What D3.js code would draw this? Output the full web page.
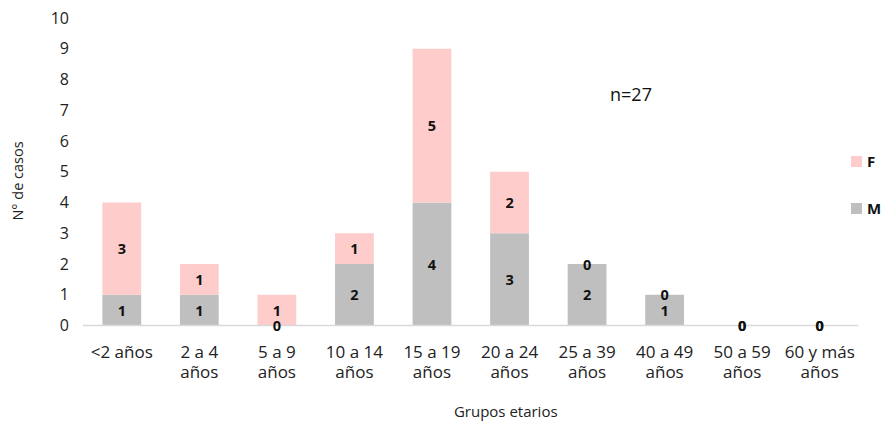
<!DOCTYPE html>
<html>
<head>
<meta charset="utf-8">
<script src="https://cdn.jsdelivr.net/npm/d3@7"></script>
<style>
  body { margin: 0; background: #fff; }
  text { font-family: "Open Sans", "DejaVu Sans", sans-serif; }
</style>
</head>
<body>
<div id="chart"></div>
<script>
// data
var grupos = [["<2 años"], ["2 a 4", "años"], ["5 a 9", "años"], ["10 a 14", "años"], ["15 a 19", "años"],
              ["20 a 24", "años"], ["25 a 39", "años"], ["40 a 49", "años"], ["50 a 59", "años"], ["60 y más", "años"]];
var masculino = [1, 1, 0, 2, 4, 3, 2, 1, 0, 0];
var femenino  = [3, 1, 1, 1, 5, 2, 0, 0, 0, 0];
var yTicks = [0, 1, 2, 3, 4, 5, 6, 7, 8, 9, 10];
var series = ["M", "F"];

var W = 888, H = 429;
var margin = {top: 18, right: 30, bottom: 103, left: 83},
    width = 858.5 - margin.left,
    height = 325.5 - margin.top;

var svg = d3.select("#chart").append("svg")
    .attr("width", W).attr("height", H)
  .append("g")
    .attr("transform", "translate(" + margin.left + "," + margin.top + ")");

var keys = grupos.map(function(d) { return d.join(" "); });
var rows = keys.map(function(k, i) { return {group: k, M: masculino[i], F: femenino[i]}; });

var x = d3.scaleBand().domain(keys).range([0, width]).paddingInner(0.5).paddingOuter(0.25);
var y = d3.scaleLinear().domain([0, 10]).range([height, 0]);
var color = d3.scaleOrdinal().domain(series).range(["#bfbfbf", "#ffcccc"]);

var stacked = d3.stack().keys(series)(rows);

// bars
svg.append("g").selectAll("g")
  .data(stacked).enter().append("g")
    .attr("fill", function(d) { return color(d.key); })
  .selectAll("rect")
  .data(function(d) { return d; })
  .enter().append("rect")
    .attr("x", function(d) { return x(d.data.group); })
    .attr("y", function(d) { return y(d[1]); })
    .attr("height", function(d) { return y(d[0]) - y(d[1]); })
    .attr("width", x.bandwidth());

// x axis line
svg.append("line")
    .attr("x1", 0).attr("x2", width)
    .attr("y1", height).attr("y2", height)
    .attr("stroke", "#d9d9d9").attr("stroke-width", 1.5);

// y tick labels
svg.append("g").selectAll("text")
  .data(yTicks).enter().append("text")
    .attr("x", -14)
    .attr("y", function(d) { return y(d); })
    .attr("dy", "0.35em")
    .attr("text-anchor", "end")
    .attr("font-size", 16)
    .attr("fill", "#222")
    .text(function(d) { return d; });

// x tick labels (one text per line)
grupos.forEach(function(lines, i) {
  svg.append("g").selectAll("text")
    .data(lines).enter().append("text")
      .attr("x", x(keys[i]) + x.bandwidth() / 2)
      .attr("y", function(d, j) { return height + 32 + j * 20; })
      .attr("text-anchor", "middle")
      .attr("font-size", 17)
      .attr("fill", "#222")
      .text(function(d) { return d; });
});

// data labels
stacked.forEach(function(s) {
  svg.append("g").selectAll("text")
    .data(s).enter().append("text")
      .attr("x", function(d) { return x(d.data.group) + x.bandwidth() / 2; })
      .attr("y", function(d) { return y((d[0] + d[1]) / 2); })
      .attr("dy", "0.38em")
      .attr("text-anchor", "middle")
      .attr("font-family", "DejaVu Sans")
      .attr("font-weight", "bold")
      .attr("font-size", 14.5)
      .attr("fill", "#111")
      .text(function(d) { return d[1] - d[0]; });
});

// n annotation
svg.append("text")
    .attr("x", 548).attr("y", y(7.5))
    .attr("dy", "0.35em")
    .attr("text-anchor", "middle")
    .attr("font-size", 18)
    .attr("fill", "#111")
    .text("n=" + d3.sum(masculino.concat(femenino)));

// legend
var legend = svg.append("g").selectAll("g")
  .data(series.slice().reverse()).enter().append("g")
    .attr("transform", function(d, i) { return "translate(" + (851 - margin.left) + "," + (156 - margin.top + i * 47) + ")"; });
legend.append("rect")
    .attr("width", 11).attr("height", 11)
    .attr("fill", function(d) { return color(d); });
legend.append("text")
    .attr("x", 16).attr("y", 5.5).attr("dy", "0.38em")
    .attr("font-family", "DejaVu Sans")
    .attr("font-weight", "bold")
    .attr("font-size", 15)
    .attr("fill", "#111")
    .text(function(d) { return d; });

// axis titles
svg.append("text")
    .attr("x", width / 2 + 35).attr("y", 412 - margin.top)
    .attr("dy", "0.35em")
    .attr("text-anchor", "middle")
    .attr("font-size", 15)
    .attr("fill", "#222")
    .text("Grupos etarios");

svg.append("text")
    .attr("transform", "translate(" + (18 - margin.left) + "," + (181 - margin.top) + ") rotate(-90)")
    .attr("dy", "0.35em")
    .attr("text-anchor", "middle")
    .attr("font-size", 14.5)
    .attr("fill", "#222")
    .text("N° de casos");
</script>
</body>
</html>
